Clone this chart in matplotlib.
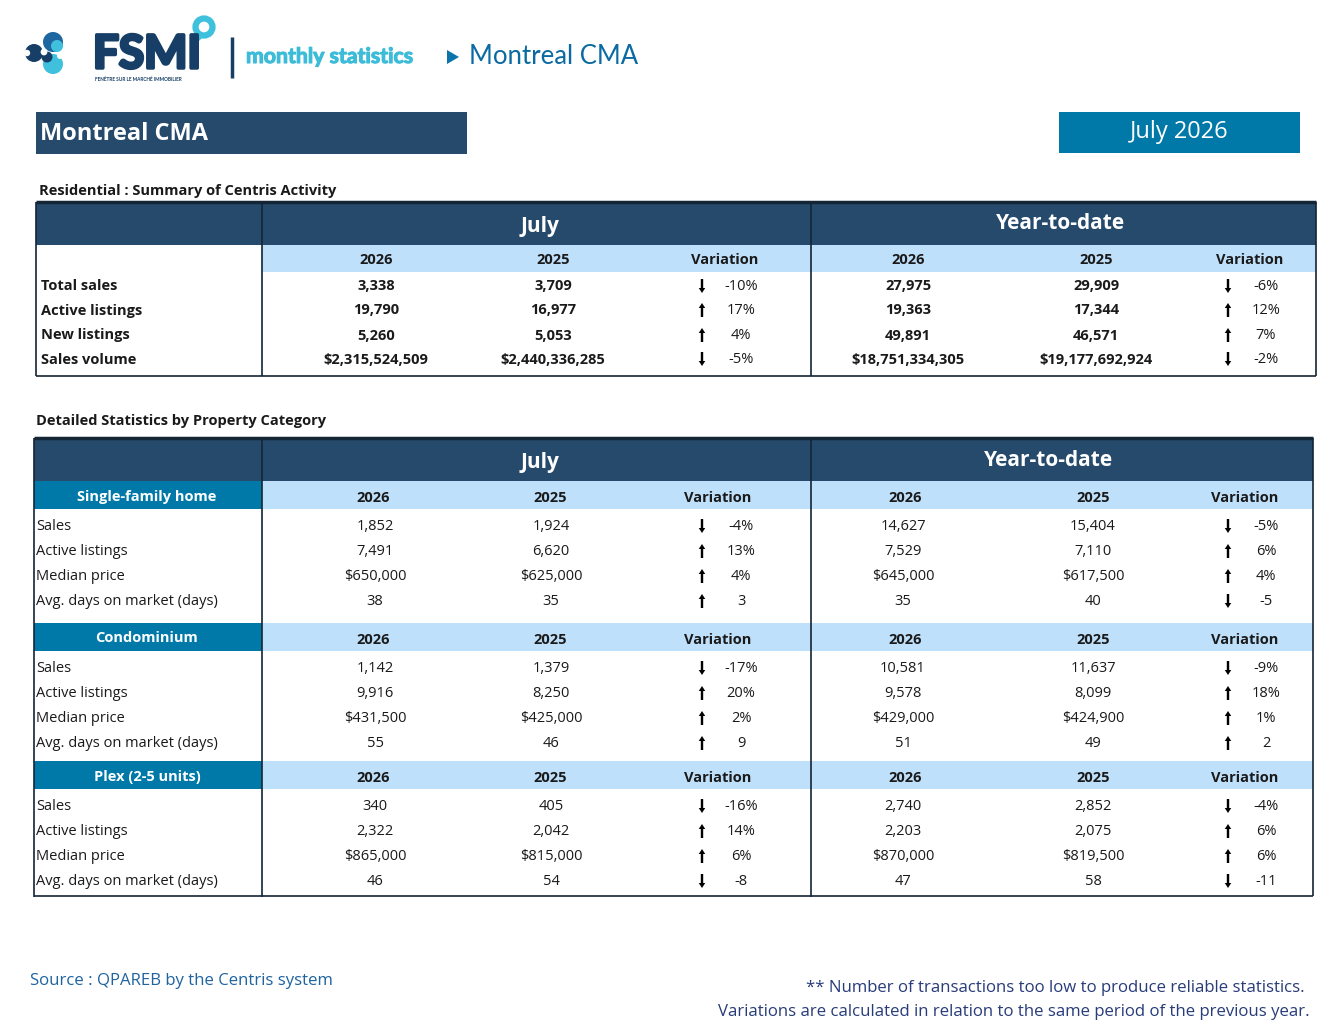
import matplotlib
matplotlib.use("Agg")
import matplotlib.pyplot as plt
import matplotlib.patheffects as pe
from matplotlib.patches import Rectangle, Circle, Polygon

# ---------------- data ----------------
summary_labels = ["Total sales", "Active listings", "New listings", "Sales volume"]
summary_month_2026 = [3338, 19790, 5260, 2315524509]
summary_month_2025 = [3709, 16977, 5053, 2440336285]
summary_month_var = [-10, 17, 4, -5]
summary_ytd_2026 = [27975, 19363, 49891, 18751334305]
summary_ytd_2025 = [29909, 17344, 46571, 19177692924]
summary_ytd_var = [-6, 12, 7, -2]
summary_money = [False, False, False, True]

categories = ["Single-family home", "Condominium", "Plex (2-5 units)"]
detail_labels = ["Sales", "Active listings", "Median price", "Avg. days on market (days)"]
detail_money = [False, False, True, False]
detail_pct = [True, True, True, False]

sf_month_2026 = [1852, 7491, 650000, 38]
sf_month_2025 = [1924, 6620, 625000, 35]
sf_month_var = [-4, 13, 4, 3]
sf_ytd_2026 = [14627, 7529, 645000, 35]
sf_ytd_2025 = [15404, 7110, 617500, 40]
sf_ytd_var = [-5, 6, 4, -5]

condo_month_2026 = [1142, 9916, 431500, 55]
condo_month_2025 = [1379, 8250, 425000, 46]
condo_month_var = [-17, 20, 2, 9]
condo_ytd_2026 = [10581, 9578, 429000, 51]
condo_ytd_2025 = [11637, 8099, 424900, 49]
condo_ytd_var = [-9, 18, 1, 2]

plex_month_2026 = [340, 2322, 865000, 46]
plex_month_2025 = [405, 2042, 815000, 54]
plex_month_var = [-16, 14, 6, -8]
plex_ytd_2026 = [2740, 2203, 870000, 47]
plex_ytd_2025 = [2852, 2075, 819500, 58]
plex_ytd_var = [-4, 6, 6, -11]

year_labels = ["2026", "2025", "Variation"]
period_labels = ["July", "Year-to-date"]

# ---------------- style ----------------
NAVY = "#254a6c"
TEAL = "#0079a9"
LIGHT = "#bfe0fb"
BORDER = "#142536"
TXT = "#1a1a1a"
LOGO_NAVY = "#173e66"
LOGO_CYAN = "#3fc0dd"

SANS = ["Open Sans", "DejaVu Sans"]
LATO = ["Lato", "DejaVu Sans"]

fig = plt.figure(figsize=(13.44, 10.26), dpi=100)
ax = fig.add_axes([0, 0, 1, 1])
ax.set_xlim(0, 1344)
ax.set_ylim(1026, 0)
ax.axis("off")


def T(x, y, s, size=11, color=TXT, weight="normal", ha="center", family=SANS, dy=1.5, **kw):
    return ax.text(x, y + dy, s, fontsize=size, color=color, fontweight=weight, ha=ha,
                   va="center", family=family, **kw)


def rect(x0, y0, x1, y1, color, **kw):
    ax.add_patch(Rectangle((x0, y0), x1 - x0, y1 - y0, facecolor=color,
                           edgecolor="none", **kw))


def line(xs, ys, lw=1.2, color=BORDER):
    ax.plot(xs, ys, color=color, lw=lw, solid_capstyle="butt")


def fmt(v, money):
    s = f"{v:,}"
    return "$" + s if money else s


def fmt_var(v, pct):
    return f"{v}%" if pct else f"{v}"


def arrow(x, y, v):
    y = y + 1
    if v >= 0:
        ax.arrow(x, y + 7, 0, -14, width=2.4, head_width=6.5, head_length=5,
                 length_includes_head=True, color="black", lw=0)
    else:
        ax.arrow(x, y - 7, 0, 14, width=2.4, head_width=6.5, head_length=5,
                 length_includes_head=True, color="black", lw=0)


# ---------------- logo / header ----------------
ax.add_patch(Circle((34, 53), 9, color=LOGO_NAVY, lw=0))
ax.add_patch(Circle((53, 42), 10, color="#1f67a0", lw=0))
ax.add_patch(Circle((57, 46), 6, color=LOGO_CYAN, lw=0))
ax.add_patch(Circle((53, 64), 10, color=LOGO_CYAN, lw=0))
ax.add_patch(Circle((47, 57), 5.5, color=LOGO_NAVY, lw=0))
ax.add_patch(Circle((44, 52), 3.4, color="white", lw=0))
ax.add_patch(Circle((27, 53), 3.2, color="white", lw=0))
ax.add_patch(Circle((60, 56), 3.0, color="white", lw=0))

fs = T(93, 55, "FSMI", size=33, color=LOGO_NAVY, weight="bold", ha="left", family=LATO, dy=0)
fs.set_path_effects([pe.withStroke(linewidth=2.5, foreground=LOGO_NAVY)])
ax.add_patch(Circle((204, 27), 8.5, facecolor="none", edgecolor=LOGO_CYAN, lw=4.5))
ax.add_patch(Polygon([[196, 33], [203, 37], [193, 47]], closed=True, color=LOGO_CYAN, lw=0))
T(95, 79, "FENÊTRE SUR LE MARCHÉ IMMOBILIER", size=3.4, color=LOGO_NAVY, weight="bold",
  ha="left", family=LATO, dy=0)
line([232, 232], [37, 78], lw=2.5, color=LOGO_NAVY)
ms = T(246, 57, "monthly statistics", size=15.3, color="#3cbcd8", weight="bold", ha="left",
       family=LATO, dy=0)
ms.set_path_effects([pe.withStroke(linewidth=0.8, foreground="#3cbcd8")])
ax.add_patch(Polygon([[447, 50], [447, 64], [459, 57]], closed=True, color="#0a74ab", lw=0))
T(469, 57, "Montreal CMA", size=18.5, color="#0a6aa1", ha="left", family=LATO, dy=0)

# title boxes
rect(36, 112, 467, 154, NAVY)
T(40, 133, "Montreal CMA", size=17, color="white", weight="bold", ha="left")
rect(1059, 112, 1300, 153, TEAL)
T(1179, 131, "July 2026", size=17, color="white", ha="center")

# ---------------- summary table ----------------
T(39, 189, "Residential : Summary of Centris Activity", size=10.5, weight="bold", ha="left")
L, R = 36, 1316
top, hb, sb, bot = 202, 245, 272, 376
DIV1, DIV2 = 262, 811
rect(L, top, R, hb, NAVY)
rect(DIV1, hb, R, sb, LIGHT)
T(540, 225, period_labels[0], size=15, color="white", weight="bold")
T(1060, 222, period_labels[1], size=15, color="white", weight="bold")
cols1 = [376, 553, 725, 908, 1096, 1250]
for i, x in enumerate(cols1):
    T(x, 259, year_labels[i % 3], size=10.5, weight="bold")
rows1 = [285, 309, 334, 358]
for r, y in enumerate(rows1):
    T(41, y, summary_labels[r], size=10.5, weight="bold", ha="left")
    m = summary_money[r]
    T(cols1[0], y, fmt(summary_month_2026[r], m), size=10.5, weight="bold")
    T(cols1[1], y, fmt(summary_month_2025[r], m), size=10.5, weight="bold")
    T(cols1[3], y, fmt(summary_ytd_2026[r], m), size=10.5, weight="bold")
    T(cols1[4], y, fmt(summary_ytd_2025[r], m), size=10.5, weight="bold")
    arrow(702, y, summary_month_var[r])
    T(741, y, fmt_var(summary_month_var[r], True), size=10.5)
    arrow(1228, y, summary_ytd_var[r])
    T(1266, y, fmt_var(summary_ytd_var[r], True), size=10.5)
line([L, R], [top, top], lw=2.5)
line([L, R], [bot, bot])
line([L, L], [top, bot])
line([R, R], [top, bot])
line([DIV1, DIV1], [top, bot])
line([DIV2, DIV2], [top, bot])

# ---------------- detailed table ----------------
T(36, 420, "Detailed Statistics by Property Category", size=10.5, weight="bold", ha="left")
L2, R2 = 34, 1313
top2, hb2, bot2 = 438, 481, 896
rect(L2, top2, R2, hb2, NAVY)
T(540, 461, period_labels[0], size=15, color="white", weight="bold")
T(1048, 459, period_labels[1], size=15, color="white", weight="bold")

sections = [
    (sf_month_2026, sf_month_2025, sf_month_var, sf_ytd_2026, sf_ytd_2025, sf_ytd_var),
    (condo_month_2026, condo_month_2025, condo_month_var, condo_ytd_2026, condo_ytd_2025, condo_ytd_var),
    (plex_month_2026, plex_month_2025, plex_month_var, plex_ytd_2026, plex_ytd_2025, plex_ytd_var),
]
band_tops = [481, 623, 761]
band_h = 28
cols2 = [373, 550, 718, 905, 1093, 1245]
for s, (m26, m25, mv, y26, y25, yv) in enumerate(sections):
    bt = band_tops[s]
    rect(L2, bt, DIV1, bt + band_h, TEAL)
    rect(DIV1, bt, R2, bt + band_h, LIGHT)
    yc = bt + band_h / 2
    T(147, yc, categories[s], size=10.5, color="white", weight="bold")
    for i, x in enumerate(cols2):
        T(x, yc + 1, year_labels[i % 3], size=10.5, weight="bold")
    for r in range(4):
        y = bt + 44 + r * 25
        T(36, y, detail_labels[r], size=10.5, ha="left")
        m = detail_money[r]
        p = detail_pct[r]
        T(375, y, fmt(m26[r], m), size=10.5)
        T(551, y, fmt(m25[r], m), size=10.5)
        T(903, y, fmt(y26[r], m), size=10.5)
        T(1093, y, fmt(y25[r], m), size=10.5)
        arrow(702, y, mv[r])
        T(741, y, fmt_var(mv[r], p), size=10.5)
        arrow(1228, y, yv[r])
        T(1266, y, fmt_var(yv[r], p), size=10.5)

line([L2, R2], [top2, top2], lw=2.5)
line([L2, R2], [bot2, bot2])
line([L2, L2], [top2, bot2 + 1])
line([R2, R2], [top2, bot2])
line([DIV1, DIV1], [top2, bot2 + 1])
line([DIV2, DIV2], [top2, bot2 + 1])

# ---------------- footer ----------------
T(30, 981, "Source : QPAREB by the Centris system", size=12.1, color="#1f63a0", ha="left", dy=0)
T(1305, 988, "** Number of transactions too low to produce reliable statistics.", size=12.1,
  color="#283c7a", ha="right", dy=0)
T(1310, 1012, "Variations are calculated in relation to the same period of the previous year.",
  size=12.1, color="#283c7a", ha="right", dy=0)

fig.savefig("out.png", dpi=100)
